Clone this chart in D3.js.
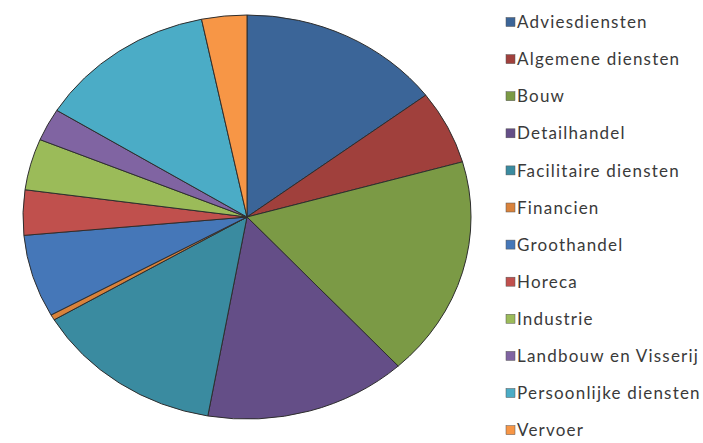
<!DOCTYPE html>
<html>
<head>
<meta charset="utf-8">
<script src="https://cdn.jsdelivr.net/npm/d3@7"></script>
<style>
  body { margin: 0; background: #fff; }
  text { font-family: Lato, "Open Sans", sans-serif; }
</style>
</head>
<body>
<div id="chart"></div>
<script>
// sectors (percent share)
var sectors = ["Adviesdiensten", "Algemene diensten", "Bouw", "Detailhandel", "Facilitaire diensten",
  "Financien", "Groothandel", "Horeca", "Industrie", "Landbouw en Visserij", "Persoonlijke diensten", "Vervoer"];
var shares = [14.7, 5.9, 17.6, 14.6, 13.7, 0.45, 6.6, 3.6, 4.1, 2.6, 12.9, 3.25];
var colors = ["#3b6598", "#a0403c", "#7b9a45", "#644e87", "#3a8ba0", "#d9823b",
  "#4577b8", "#c0504d", "#9bbb59", "#8064a2", "#4bacc6", "#f79646"];

var width = 703, height = 443;
var cx = 247, cy = 217, rx = 224, ry = 202;

var svg = d3.select("#chart").append("svg")
  .attr("width", width)
  .attr("height", height);

var pie = d3.pie().sort(null).value(function(d){ return d; });
var arc = d3.arc().innerRadius(0).outerRadius(1);

// pie is slightly stretched horizontally, so draw on a unit circle and scale
var g = svg.append("g")
  .attr("transform", "translate(" + cx + "," + cy + ") scale(" + rx + "," + ry + ")");

g.selectAll("path")
  .data(pie(shares))
  .enter()
  .append("path")
  .attr("d", arc)
  .attr("fill", function(d, i){ return colors[i]; })
  .attr("stroke", "#2e2e2e")
  .attr("stroke-width", 1)
  .attr("vector-effect", "non-scaling-stroke");

// legend
var legend = svg.append("g").attr("transform", "translate(506,22)");
var rows = legend.selectAll("g")
  .data(sectors)
  .enter()
  .append("g")
  .attr("transform", function(d, i){ return "translate(0," + (i * 37.1) + ")"; });

rows.append("rect")
  .attr("x", 0)
  .attr("y", -4.5)
  .attr("width", 9)
  .attr("height", 9)
  .attr("fill", function(d, i){ return colors[i]; })
  .attr("stroke", "#555")
  .attr("stroke-width", 0.5);

rows.append("text")
  .attr("x", 11)
  .attr("y", 0)
  .attr("dy", "0.36em")
  .style("font-size", "17px")
  .style("letter-spacing", "1.2px")
  .style("fill", "#3a3a3a")
  .text(function(d){ return d; });
</script>
</body>
</html>
